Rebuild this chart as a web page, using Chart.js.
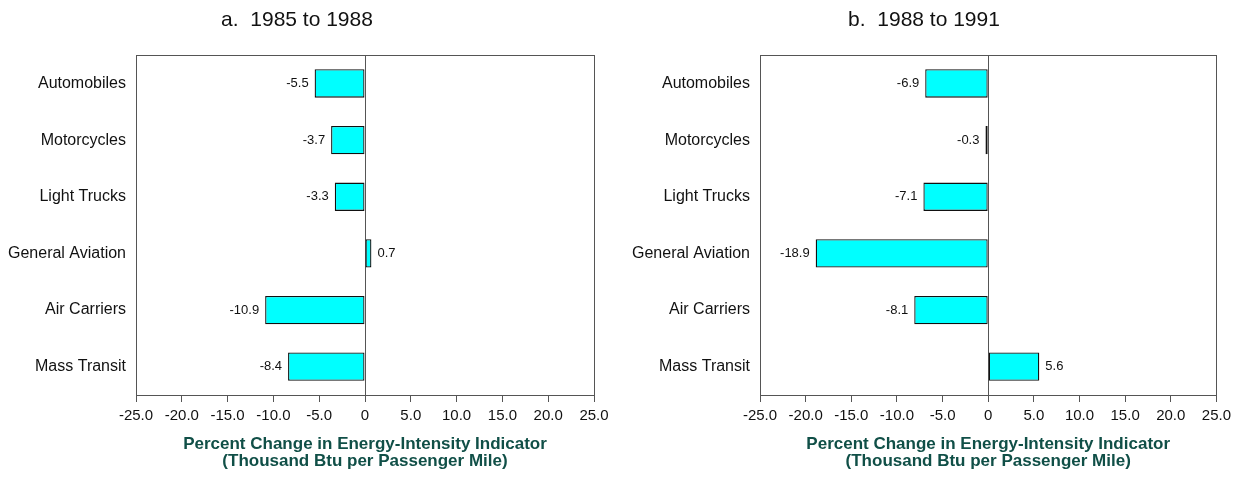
<!DOCTYPE html>
<html>
<head>
<meta charset="utf-8">
<script src="https://cdn.jsdelivr.net/npm/chart.js@4/dist/chart.umd.min.js"></script>
<style>
  body { margin: 0; background: #fff; }
  .wrap { position: absolute; top: 0; height: 479px; }
</style>
</head>
<body>
<div class="wrap" style="left:0;width:630px"><canvas id="chartA" width="630" height="479"></canvas></div>
<div class="wrap" style="left:630px;width:606px"><canvas id="chartB" width="606" height="479"></canvas></div>
<script>
// 데이터
const modes = ['Automobiles', 'Motorcycles', 'Light Trucks', 'General Aviation', 'Air Carriers', 'Mass Transit'];
const change1985to1988 = [-5.5, -3.7, -3.3, 0.7, -10.9, -8.4];
const change1988to1991 = [-6.9, -0.3, -7.1, -18.9, -8.1, 5.6];
const xTickValues = [-25, -20, -15, -10, -5, 0, 5, 10, 15, 20, 25];
const axisTitle = ['Percent Change in Energy-Intensity Indicator', '(Thousand Btu per Passenger Mile)'];

const FONT = 'Arial, "Liberation Sans", sans-serif';

// 값 라벨 + 외곽 박스
const boxAndLabels = {
    id: 'boxAndLabels',
    afterDatasetsDraw(chart) {
        const ctx = chart.ctx;
        const area = chart.chartArea;
        ctx.save();
        ctx.strokeStyle = '#555';
        ctx.lineWidth = 1;
        ctx.strokeRect(Math.round(area.left) + 0.5, Math.round(area.top) + 0.5,
            Math.round(area.right - area.left), Math.round(area.bottom - area.top));

        ctx.font = '13px ' + FONT;
        ctx.fillStyle = '#111';
        ctx.textBaseline = 'middle';
        const data = chart.data.datasets[0].data;
        chart.getDatasetMeta(0).data.forEach((bar, i) => {
            const v = data[i];
            if (v < 0) {
                ctx.textAlign = 'right';
                ctx.fillText(v.toFixed(1), bar.x - 6, bar.y);
            } else {
                ctx.textAlign = 'left';
                ctx.fillText(v.toFixed(1), bar.x + 6, bar.y);
            }
        });
        ctx.restore();
    }
};

function renderPanel(canvasId, values, subtitle, yWidth, rightPad) {
    const ctx = document.getElementById(canvasId).getContext('2d');
    new Chart(ctx, {
        type: 'bar',
        data: {
            labels: modes,
            datasets: [{
                data: values,
                backgroundColor: '#00ffff',
                borderColor: '#111',
                borderWidth: 1.3,
                borderSkipped: false,
                barPercentage: 0.5,
                categoryPercentage: 1.0
            }]
        },
        options: {
            indexAxis: 'y',
            responsive: false,
            animation: false,
            layout: { padding: { left: 0, right: rightPad, top: 0, bottom: 0 } },
            scales: {
                x: {
                    min: -25,
                    max: 25,
                    afterBuildTicks: scale => { scale.ticks = xTickValues.map(v => ({ value: v })); },
                    afterFit: scale => { scale.height = 84; },
                    grid: {
                        color: c => (c.tick && c.tick.value === 0 ? '#555' : 'rgba(0,0,0,0)'),
                        tickColor: '#555',
                        tickLength: 7,
                        lineWidth: 1
                    },
                    border: { display: false },
                    ticks: {
                        padding: 5,
                        color: '#111',
                        font: { family: FONT, size: 15 },
                        callback: v => (v === 0 ? '0' : v.toFixed(1))
                    },
                    title: {
                        display: true,
                        text: axisTitle,
                        color: '#104f47',
                        font: { family: FONT, size: 17, weight: 'bold', lineHeight: 0.96 },
                        padding: { top: 0, bottom: 10 }
                    }
                },
                y: {
                    afterFit: scale => { scale.width = yWidth; },
                    grid: { display: false, drawTicks: false },
                    border: { display: false },
                    ticks: {
                        padding: 10,
                        color: '#111',
                        font: { family: FONT, size: 16 }
                    }
                }
            },
            plugins: {
                legend: { display: false },
                tooltip: { enabled: false },
                title: {
                    display: true,
                    text: subtitle,
                    color: '#111',
                    font: { family: FONT, size: 21, weight: 'normal', lineHeight: 1.15 },
                    padding: { top: 8, bottom: 23 }
                }
            }
        },
        plugins: [boxAndLabels]
    });
}

renderPanel('chartA', change1985to1988, 'a.  1985 to 1988', 136, 36);
renderPanel('chartB', change1988to1991, 'b.  1988 to 1991', 130, 18);
</script>
</body>
</html>
